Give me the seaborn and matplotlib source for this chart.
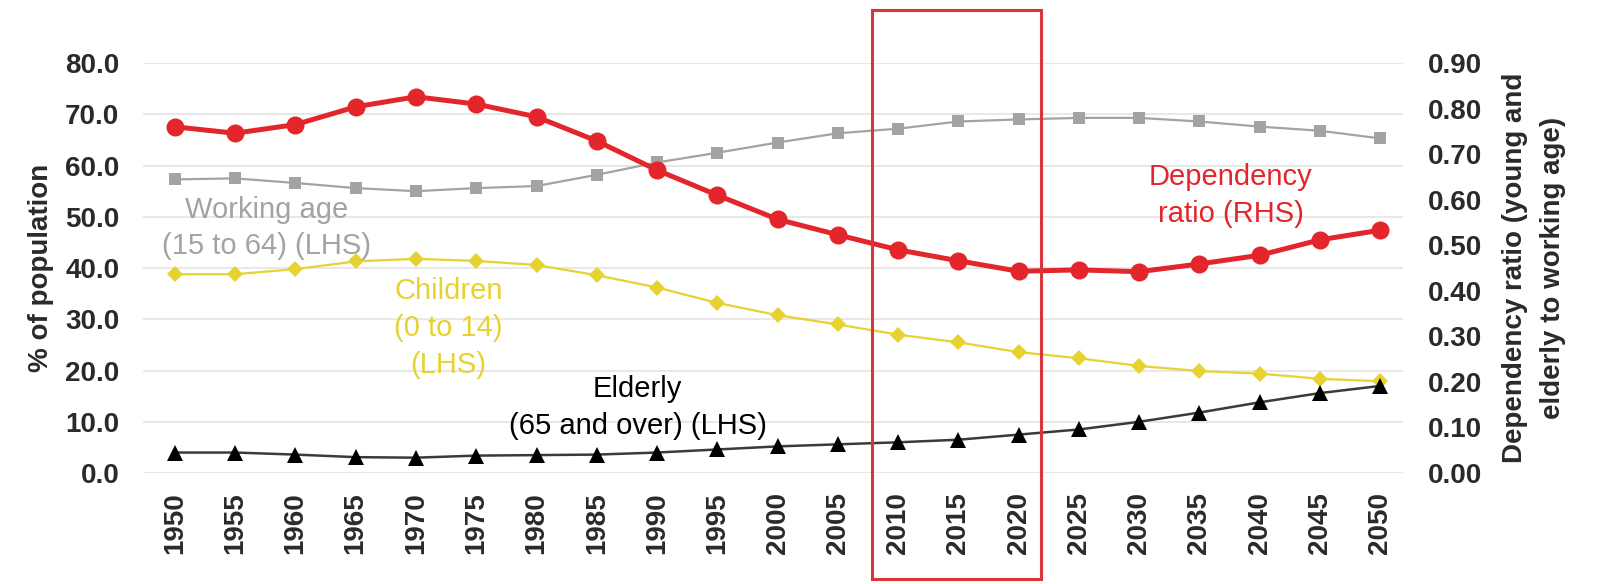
import pandas as pd
import matplotlib
matplotlib.use("Agg")
import matplotlib.pyplot as plt
import matplotlib.transforms as mtransforms
from matplotlib.patches import Rectangle
from matplotlib.ticker import FormatStrFormatter, MultipleLocator
import seaborn as sns

# Data
years = [1950, 1955, 1960, 1965, 1970, 1975, 1980, 1985, 1990, 1995, 2000,
         2005, 2010, 2015, 2020, 2025, 2030, 2035, 2040, 2045, 2050]
working_age = [57.3, 57.5, 56.6, 55.6, 55.0, 55.6, 56.0, 58.2, 60.6, 62.5, 64.5,
               66.3, 67.2, 68.6, 69.0, 69.3, 69.3, 68.6, 67.6, 66.8, 65.3]
children = [38.8, 38.8, 39.8, 41.3, 41.8, 41.4, 40.6, 38.6, 36.2, 33.2, 30.8,
            29.0, 27.0, 25.5, 23.6, 22.4, 20.9, 19.9, 19.4, 18.4, 17.9]
elderly = [4.0, 4.0, 3.6, 3.1, 3.0, 3.4, 3.5, 3.6, 4.0, 4.6, 5.2,
           5.6, 6.0, 6.5, 7.5, 8.5, 10.0, 11.8, 13.8, 15.6, 17.0]
dependency = [0.760, 0.746, 0.765, 0.804, 0.826, 0.810, 0.782, 0.729, 0.665, 0.610, 0.557,
              0.523, 0.490, 0.466, 0.443, 0.446, 0.442, 0.459, 0.478, 0.512, 0.533]
highlight = (2010, 2020)

df = pd.DataFrame({"year": years, "working": working_age, "children": children,
                   "elderly": elderly, "dependency": dependency})

sns.set_theme(style="white")
plt.rcParams["font.family"] = ["Liberation Sans", "DejaVu Sans"]

RED = "#e3262b"
GRAY = "#a3a3a3"
YELLOW = "#e6d230"

fig, ax = plt.subplots(figsize=(15.98, 5.84), dpi=100)
fig.subplots_adjust(left=0.0895, right=0.878, top=0.892, bottom=0.19)

sns.lineplot(data=df, x="year", y="working", ax=ax, color=GRAY, lw=1.6,
             marker="s", markersize=8, markeredgewidth=0)
sns.lineplot(data=df, x="year", y="children", ax=ax, color=YELLOW, lw=1.6,
             marker="D", markersize=8, markeredgewidth=0)
sns.lineplot(data=df, x="year", y="elderly", ax=ax, color="#3a3a3a", lw=1.8,
             marker="^", markersize=11, markeredgewidth=0, markerfacecolor="black")

ax2 = ax.twinx()
sns.lineplot(data=df, x="year", y="dependency", ax=ax2, color=RED, lw=3.6,
             marker="o", markersize=13, markeredgewidth=0)

ax.set_xlim(1947.35, 2051.9)
ax.set_ylim(0, 80)
ax2.set_ylim(0, 0.9)
ax.set_xticks(years)
ax.set_xticklabels([str(y) for y in years], rotation=90)
ax.yaxis.set_major_locator(MultipleLocator(10))
ax.yaxis.set_major_formatter(FormatStrFormatter("%.1f"))
ax2.yaxis.set_major_locator(MultipleLocator(0.1))
ax2.yaxis.set_major_formatter(FormatStrFormatter("%.2f"))

ax.yaxis.grid(True, color="#e4e4e4", lw=1.2)
ax.xaxis.grid(False)
for a in (ax, ax2):
    for s in a.spines.values():
        s.set_visible(False)
    a.tick_params(length=0, labelsize=20)
    for lab in a.get_xticklabels() + a.get_yticklabels():
        lab.set_fontweight("bold")
        lab.set_color("#2a2a2a")
ax.tick_params(axis="y", pad=17)
ax.tick_params(axis="x", pad=14)
ax2.tick_params(axis="y", pad=18)

ax.set_xlabel("")
ax.set_ylabel("% of population", fontsize=20, fontweight="bold", color="#2a2a2a", labelpad=8)
ax2.set_ylabel("Dependency ratio (young and\nelderly to working age)", fontsize=20,
               fontweight="bold", color="#2a2a2a", labelpad=14, linespacing=1.6)

txt = dict(fontsize=21, ha="center", va="center", linespacing=1.4)
ax.text(1957.6, 47.8, "Working age\n(15 to 64) (LHS)", color=GRAY, **txt)
ax.text(1972.7, 28.3, "Children\n(0 to 14)\n(LHS)", color=YELLOW, **txt)
ax.text(1988.4, 12.8, "Elderly\n(65 and over) (LHS)", color="black", **txt)
ax.text(2037.6, 54.2, "Dependency\nratio (RHS)", color=RED, **txt)

# highlight box around 2010-2020
trans = mtransforms.blended_transform_factory(ax.transData, fig.transFigure)
box = Rectangle((highlight[0] - 2.15, 0.008), highlight[1] - highlight[0] + 4.0, 0.975,
                transform=trans, fill=False, edgecolor="#d9363b", lw=2.2, clip_on=False)
fig.patches.append(box)

fig.savefig("out.png", dpi=100)
